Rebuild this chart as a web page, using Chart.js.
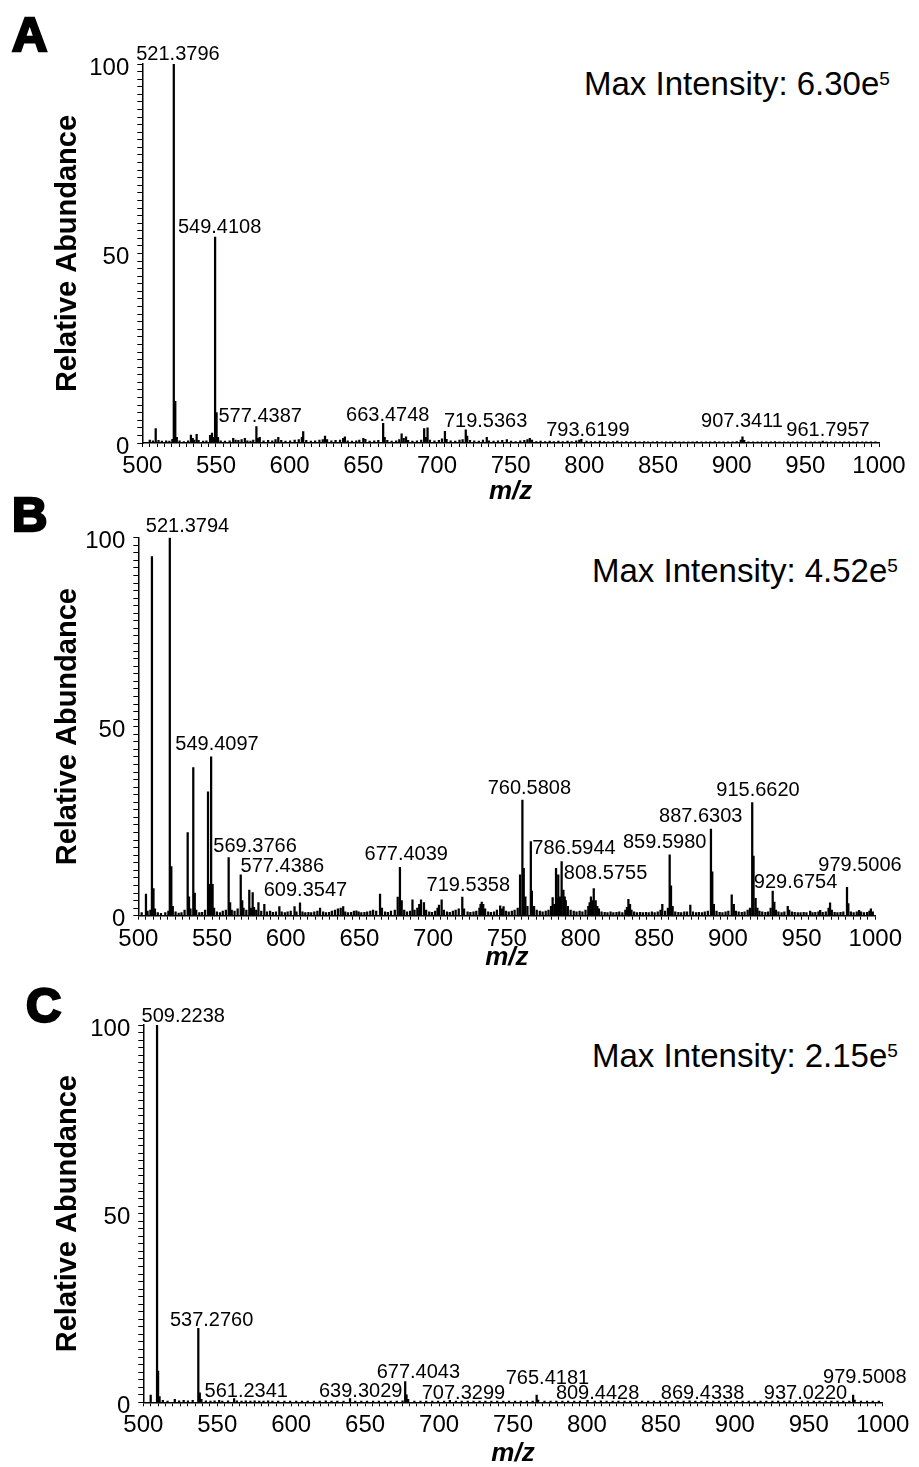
<!DOCTYPE html>
<html>
<head>
<meta charset="utf-8">
<script src="https://cdn.jsdelivr.net/npm/chart.js@4.4.1/dist/chart.umd.min.js"></script>
<style>
  body { margin: 0; background: #fff; width: 919px; height: 1467px; position: relative; overflow: hidden;
         font-family: "Liberation Sans", Arial, sans-serif; color: #000; }
  canvas { position: absolute; left: 0; }
  .letter { position: absolute; font-weight: bold; font-size: 49px; line-height: 49px; -webkit-text-stroke: 2.5px #000; }
  .maxint { position: absolute; font-size: 33px; line-height: 33px; white-space: nowrap; }
  .maxint sup { font-size: 19px; vertical-align: 10px; line-height: 0; }
</style>
</head>
<body>
<div class="letter" style="left:12px;top:10px">A</div>
<div class="letter" style="left:12px;top:490px">B</div>
<div class="letter" style="left:26px;top:981px">C</div>
<div class="maxint" style="left:584px;top:67px">Max Intensity: 6.30e<sup>5</sup></div>
<div class="maxint" style="left:592px;top:554px">Max Intensity: 4.52e<sup>5</sup></div>
<div class="maxint" style="left:592px;top:1039px">Max Intensity: 2.15e<sup>5</sup></div>

<canvas id="chartA" width="919" height="507" style="top:0px"></canvas>
<canvas id="chartB" width="919" height="483" style="top:490px"></canvas>
<canvas id="chartC" width="919" height="507" style="top:960px"></canvas>

<script>
// peaks: [m/z, relative abundance]
const peaksA = [
  [505.1,0.8],[507.2,0.6],[509.1,3.8],[511.0,0.7],[513.3,0.5],[516.2,0.6],[518.4,0.5],[520.4,1.0],
  [521.38,100],[522.38,11],[523.4,1.5],[525.3,0.6],[528.2,0.4],[531.1,0.6],[533.0,2.1],[534.2,1.2],
  [535.3,0.8],[536.9,2.3],[538.2,0.7],[541.3,0.5],[543.5,0.6],[546.0,2.0],[547.3,2.6],[548.4,1.5],
  [549.41,54.3],[550.41,8.0],[551.4,1.5],[553.2,0.6],[556.1,0.5],[559.3,0.6],[561.7,1.2],[563.3,0.8],
  [565.2,0.7],[567.4,0.9],[569.6,1.2],[571.3,0.6],[573.4,0.5],[575.3,0.8],[577.44,4.3],[578.4,1.2],
  [579.7,1.5],[582.3,0.6],[585.4,0.7],[588.2,0.6],[590.4,0.9],[592.3,1.5],[594.3,0.7],[597.2,0.5],
  [600.3,0.6],[603.4,0.8],[606.2,0.9],[608.3,1.5],[609.2,3.0],[611.3,0.7],[614.4,0.5],[617.3,0.6],
  [620.2,0.8],[622.5,0.9],[624.0,1.8],[625.4,0.9],[628.3,0.6],[631.2,0.7],[634.2,0.8],[636.3,1.2],
  [637.5,1.6],[639.4,0.6],[642.3,0.5],[645.2,0.6],[647.3,0.8],[650.0,1.2],[651.4,1.0],[654.3,0.5],
  [657.4,0.6],[660.2,0.7],[663.47,5.2],[664.5,1.5],[666.3,0.7],[669.2,0.5],[672.3,0.6],[674.4,0.9],
  [676.0,2.4],[677.4,1.2],[679.0,1.6],[680.4,0.7],[683.3,0.5],[686.4,0.6],[689.3,0.8],[691.3,3.8],
  [692.4,1.5],[693.6,4.0],[695.2,0.8],[698.3,0.6],[701.3,0.7],[703.4,1.1],[705.4,3.1],[706.5,1.0],
  [709.3,0.6],[712.4,0.5],[715.3,0.8],[717.4,0.9],[719.54,3.5],[720.5,1.8],[722.4,0.7],[725.3,0.6],
  [728.4,0.5],[731.2,0.8],[733.8,1.5],[735.3,0.6],[738.4,0.5],[741.4,0.6],[744.3,0.7],[747.4,0.9],
  [750.3,0.5],[753.4,0.4],[756.5,0.6],[759.3,0.7],[761.4,0.9],[763.0,1.2],[764.5,0.8],[767.4,0.4],
  [770.3,0.5],[773.4,0.4],[776.5,0.5],[779.3,0.4],[782.4,0.5],[785.3,0.4],[788.6,0.5],[791.4,0.4],
  [794.5,0.6],[796.6,0.8],[798.0,1.0],[801.5,0.5],[804.4,0.4],[807.3,0.4],[810.5,0.5],[813.4,0.4],
  [816.3,0.3],[819.5,0.4],[822.4,0.5],[825.4,0.3],[828.5,0.4],[831.6,0.3],[834.4,0.4],[837.5,0.3],
  [840.6,0.4],[843.3,0.3],[846.5,0.3],[849.4,0.4],[852.6,0.3],[855.5,0.3],[858.4,0.3],[861.6,0.4],
  [864.5,0.3],[867.4,0.3],[870.6,0.3],[873.5,0.3],[876.4,0.4],[879.5,0.3],[882.6,0.3],[885.4,0.3],
  [888.5,0.4],[891.6,0.3],[894.4,0.3],[897.5,0.3],[900.6,0.3],[903.4,0.4],[906.2,0.8],[907.34,1.6],
  [908.5,0.7],[911.4,0.3],[914.5,0.3],[917.6,0.3],[920.4,0.3],[923.5,0.3],[926.6,0.3],[929.4,0.4],
  [932.5,0.3],[935.6,0.3],[938.4,0.3],[941.5,0.3],[944.6,0.3],[947.4,0.3],[950.5,0.3],[953.6,0.3],
  [956.4,0.3],[959.5,0.3],[961.8,0.5],[964.4,0.3],[967.5,0.3],[970.6,0.3],[973.4,0.3],[976.5,0.3],
  [979.6,0.3],[982.4,0.3],[985.5,0.3],[988.6,0.3],[991.4,0.3],[994.5,0.3],[997.6,0.3]
];
const peaksB = [
  [502.3,0.8],[505.2,5.7],[506.3,1.2],[508.2,1.5],[509.25,95],[510.3,7.2],[511.3,1.8],[513.2,0.8],
  [515.4,0.6],[518.3,0.8],[520.4,1.2],[521.38,100],[522.4,13],[523.4,2.5],[525.3,1.0],[527.4,0.7],
  [529.3,0.8],[531.4,1.5],[533.5,22],[534.4,5],[535.4,1.8],[537.3,39.2],[538.3,6],[539.3,1.5],
  [541.4,0.8],[543.3,0.9],[545.3,1.5],[547.3,32.8],[548.3,8.3],[549.41,42],[550.4,8.3],[551.4,2.0],
  [553.3,1.0],[555.4,0.8],[557.3,1.2],[559.4,1.5],[561.3,15.4],[562.3,3.5],[563.4,1.5],[565.3,1.2],
  [567.4,1.8],[569.5,10.8],[570.5,4],[571.4,2.0],[573.3,1.5],[575.3,6.8],[576.4,2.0],[577.6,6.1],
  [578.5,2.2],[580.0,1.5],[581.5,3.5],[583.4,1.2],[585.5,3.0],[587.3,1.0],[589.4,1.2],[591.3,0.9],
  [593.4,1.0],[595.7,2.4],[597.3,1.0],[599.4,0.8],[601.3,1.0],[603.4,1.2],[606.0,2.4],[607.3,1.0],
  [609.7,3.4],[611.4,1.0],[613.3,0.8],[615.4,0.9],[617.3,0.8],[619.4,1.0],[621.5,1.2],[623.3,2.0],
  [625.4,1.0],[627.3,0.8],[629.4,0.9],[631.3,1.2],[633.4,1.5],[635.4,1.8],[637.3,2.0],[639.0,2.4],
  [640.4,1.0],[642.3,0.8],[644.4,0.9],[646.3,1.2],[648.0,1.3],[649.5,1.0],[651.3,0.8],[653.4,0.9],
  [655.3,1.0],[657.4,1.2],[659.3,1.5],[661.4,1.2],[664.0,5.7],[665.3,2.0],[667.4,1.0],[669.3,0.9],
  [671.4,1.2],[674.0,1.5],[676.0,4.9],[677.5,12.8],[678.7,4],[680.4,1.5],[682.3,1.0],[684.4,1.2],
  [686.0,4.2],[687.4,1.5],[689.3,2.0],[690.6,3.0],[691.8,4.2],[693.8,3.5],[695.3,1.5],[697.4,1.0],
  [699.3,0.9],[701.4,1.2],[703.0,2.0],[704.0,2.8],[705.8,4.2],[707.3,1.5],[709.4,1.0],[711.3,0.9],
  [713.4,1.2],[715.3,1.5],[717.4,1.8],[719.8,4.9],[721.0,1.8],[723.4,1.0],[725.3,0.9],[727.4,1.0],
  [729.3,1.2],[731.4,2.0],[732.2,3.0],[733.0,3.6],[734.0,3.0],[735.3,1.8],[737.4,1.0],[739.3,0.9],
  [741.4,1.0],[743.3,1.5],[745.5,2.6],[746.6,1.8],[747.8,2.4],[749.4,1.2],[751.3,1.0],[753.4,1.2],
  [755.3,1.5],[757.4,2.0],[759.0,10.8],[760.58,30.6],[761.5,12.5],[762.6,5.0],[764.0,2.5],[766.3,19.6],
  [767.0,6.5],[768.5,2.5],[770.3,1.5],[772.4,1.2],[774.3,1.0],[776.4,1.2],[778.3,1.5],[780.0,2.5],
  [781.1,4.8],[782.3,3.0],[783.4,12.5],[784.3,4.5],[784.9,10.8],[786.0,5.0],[787.2,14.3],[788.4,6.8],
  [789.3,5.0],[790.0,4.0],[791.4,2.5],[793.3,1.5],[795.4,1.2],[797.3,1.0],[799.4,1.2],[801.3,1.0],
  [803.4,1.5],[805.3,2.5],[806.2,3.5],[807.1,5.0],[808.0,4.0],[809.0,7.2],[810.3,4.0],[811.4,2.5],
  [812.5,1.8],[814.3,1.0],[816.4,0.9],[818.3,0.8],[820.4,1.0],[822.3,0.8],[824.4,0.9],[826.3,1.0],
  [828.4,0.8],[830.4,1.5],[831.5,2.2],[832.5,4.3],[833.6,3.0],[834.6,1.5],[836.4,1.0],[838.3,0.8],
  [840.4,0.9],[842.3,0.8],[844.4,0.9],[846.3,0.8],[848.4,1.0],[850.3,0.8],[852.4,1.0],[854.3,1.5],
  [855.5,3.0],[857.4,1.2],[859.3,2.0],[860.5,16.1],[861.4,7.9],[862.5,2.5],[864.3,1.0],[866.4,0.9],
  [868.3,0.8],[870.4,1.0],[872.3,1.0],[874.5,2.8],[876.3,1.0],[878.4,0.8],[880.3,0.9],[882.4,0.8],
  [884.3,1.0],[886.4,1.2],[888.5,22.9],[889.4,11.6],[890.5,3.0],[892.3,1.2],[894.4,0.9],[896.3,0.8],
  [898.4,1.0],[900.3,1.2],[902.6,5.5],[904.0,3.0],[905.4,1.2],[907.3,1.0],[909.4,0.9],[911.3,1.0],
  [913.4,1.5],[915.0,2.0],[916.5,29.9],[917.4,15.8],[918.8,4.6],[920.0,2.0],[921.4,1.2],[923.3,1.0],
  [925.4,0.9],[927.3,1.0],[929.0,2.0],[930.4,6.5],[931.5,3.6],[932.6,1.5],[934.3,1.0],[936.4,0.8],
  [938.3,1.0],[940.6,2.5],[941.6,1.5],[943.4,1.0],[945.3,0.9],[947.4,0.8],[949.3,0.8],[951.4,0.9],
  [953.3,0.8],[955.8,1.2],[957.4,0.8],[959.3,0.9],[961.4,1.0],[962.6,1.4],[964.3,0.9],[966.4,1.0],
  [968.3,2.0],[969.3,3.4],[970.5,1.5],[972.4,0.9],[974.3,0.8],[976.4,0.9],[978.3,1.0],[980.8,7.5],
  [981.7,3.2],[983.4,1.0],[985.3,0.8],[987.4,1.0],[989.0,1.4],[990.4,1.0],[992.3,0.8],[994.4,0.9],
  [996.0,1.2],[997.0,1.8],[998.3,1.0]
];
const peaksC = [
  [505.0,1.9],[509.3,100],[510.0,8.3],[511.0,1.5],[513.2,0.5],[516.4,0.3],[521.3,0.8],[524.2,0.4],
  [527.3,0.5],[530.2,0.4],[533.4,0.5],[537.2,19.6],[538.2,2.5],[539.3,0.8],[542.3,0.4],[545.4,0.3],
  [548.2,0.4],[551.3,0.5],[553.4,0.3],[557.3,0.4],[561.4,1.0],[563.3,0.4],[566.4,0.3],[569.3,0.4],
  [572.4,0.3],[575.3,0.4],[578.4,0.3],[581.3,0.3],[584.4,0.4],[587.3,0.3],[591.2,0.3],[595.4,0.3],
  [599.3,0.3],[603.4,0.3],[607.3,0.3],[611.2,0.3],[615.4,0.3],[619.3,0.3],[623.4,0.4],[627.3,0.3],
  [631.2,0.3],[635.4,0.3],[639.8,1.0],[643.3,0.3],[647.4,0.3],[651.3,0.3],[655.4,0.3],[659.3,0.3],
  [663.4,0.3],[667.3,0.3],[671.4,0.3],[675.3,0.4],[677.1,5.5],[678.0,2.0],[679.1,0.8],[683.3,0.3],
  [687.4,0.3],[691.3,0.3],[695.4,0.3],[699.3,0.3],[703.4,0.3],[707.3,0.5],[711.4,0.3],[715.3,0.3],
  [719.4,0.3],[723.3,0.3],[727.4,0.3],[731.3,0.3],[735.4,0.3],[739.3,0.3],[743.4,0.3],[747.3,0.3],
  [751.4,0.3],[755.3,0.3],[759.4,0.3],[763.3,0.3],[766.0,1.9],[767.0,0.6],[771.3,0.3],[775.4,0.3],
  [779.3,0.3],[783.4,0.3],[787.3,0.3],[791.4,0.3],[795.3,0.3],[800.4,0.5],[805.3,0.3],[809.4,0.4],
  [813.3,0.3],[817.4,0.3],[821.3,0.3],[825.4,0.3],[829.3,0.3],[833.4,0.3],[837.3,0.3],[841.4,0.3],
  [845.3,0.3],[849.4,0.3],[853.3,0.3],[857.4,0.3],[861.3,0.3],[865.4,0.3],[869.4,0.4],[873.3,0.3],
  [877.4,0.3],[881.3,0.3],[885.4,0.3],[889.3,0.3],[893.4,0.3],[897.3,0.3],[901.4,0.3],[905.3,0.3],
  [909.4,0.3],[913.3,0.3],[917.4,0.3],[921.3,0.3],[925.4,0.3],[929.3,0.3],[933.4,0.3],[937.0,0.4],
  [941.3,0.3],[945.4,0.3],[949.3,0.3],[953.4,0.3],[957.3,0.3],[961.4,0.3],[965.3,0.3],[969.4,0.3],
  [973.3,0.3],[977.4,0.3],[980.0,1.9],[981.0,0.6],[985.3,0.3],[989.4,0.3],[993.3,0.3],[997.4,0.3]
];

// peak annotations: text, and where the text sits (m/z of its centre, abundance of its baseline)
const labelTextA = ['521.3796','549.4108','577.4387','663.4748','719.5363','793.6199','907.3411','961.7957'];
const labelMzA   = [524.2, 552.5, 580.0, 666.6, 733.0, 802.4, 907.0, 965.4];
const labelAbA   = [101, 55.3, 5.6, 5.9, 4.3, 1.8, 4.3, 1.8];

const labelTextB = ['521.3794','549.4097','569.3766','577.4386','609.3547','677.4039','719.5358','760.5808',
                    '786.5944','808.5755','859.5980','887.6303','915.6620','929.6754','979.5006'];
const labelMzB   = [533.4, 553.4, 579.2, 597.7, 613.4, 681.8, 723.9, 765.3, 795.6, 817.0, 857.1, 881.6, 920.4, 945.9, 989.6];
const labelAbB   = [101.6, 43.8, 16.9, 11.6, 5.3, 14.7, 6.5, 32.2, 16.2, 9.6, 17.8, 24.7, 31.7, 7.2, 11.8];

const labelTextC = ['509.2238','537.2760','561.2341','639.3029','677.4043','707.3299','765.4181','809.4428',
                    '869.4338','937.0220','979.5008'];
const labelMzC   = [527.0, 546.2, 569.6, 647.0, 686.0, 716.5, 773.3, 807.2, 878.2, 947.8, 987.9];
const labelAbC   = [100.7, 20.2, 1.5, 1.5, 6.4, 1.0, 4.8, 0.8, 0.8, 0.8, 5.0];

const xTicksMajor = 50;
const yTicksMajor = 50;

Chart.defaults.font.family = '"Liberation Sans", Arial, sans-serif';
Chart.defaults.color = '#000';

function labelPlugin(texts, mzs, abs) {
  return {
    id: 'peakLabels',
    afterDatasetsDraw(chart) {
      const { ctx, scales: { x, y } } = chart;
      ctx.save();
      ctx.font = '20px "Liberation Sans", Arial, sans-serif';
      ctx.fillStyle = '#000';
      ctx.textAlign = 'center';
      ctx.textBaseline = 'alphabetic';
      texts.forEach((t, i) => ctx.fillText(t, x.getPixelForValue(mzs[i]), y.getPixelForValue(abs[i])));
      ctx.restore();
    }
  };
}

function buildSpectrum(id, peaks, texts, mzs, abs, box) {
  const points = peaks.map(p => ({ x: p[0], y: p[1] }));
  return new Chart(document.getElementById(id), {
    type: 'bar',
    data: {
      datasets: [{
        data: points,
        backgroundColor: '#000',
        borderWidth: 0,
        barThickness: 1.6,
        grouped: false
      }]
    },
    options: {
      responsive: false,
      animation: false,
      layout: { padding: { top: box.top, right: box.right, left: 0, bottom: 0 } },
      plugins: { legend: { display: false }, tooltip: { enabled: false } },
      scales: {
        x: {
          type: 'linear',
          min: 500,
          max: 1000,
          offset: false,
          afterFit: s => { s.height = box.xAxisH; },
          grid: { drawOnChartArea: false, offset: false, tickLength: 4, color: '#000', lineWidth: 1 },
          border: { color: '#000', width: 1.5 },
          ticks: {
            stepSize: 5,
            autoSkip: false,
            maxRotation: 0,
            padding: 5,
            font: { size: 24 },
            callback: v => (v % xTicksMajor === 0 ? String(v) : '')
          },
          title: {
            display: true,
            text: 'm/z',
            font: { size: 26, weight: 'bold', style: 'italic', lineHeight: 1 },
            padding: { top: 0, bottom: box.titlePad }
          }
        },
        y: {
          min: 0,
          max: 100,
          afterFit: s => { s.width = box.left; },
          grid: { drawOnChartArea: false, tickLength: 5, color: '#000', lineWidth: 1 },
          border: { color: '#000', width: 1.5 },
          ticks: {
            stepSize: 2,
            autoSkip: false,
            padding: 8,
            labelOffset: 4,
            font: { size: 24 },
            callback: v => (v % yTicksMajor === 0 ? String(v) : '')
          },
          title: {
            display: true,
            text: 'Relative Abundance',
            font: { size: 29, weight: 'bold', lineHeight: 1 },
            padding: { top: 53, bottom: 0 }
          }
        }
      }
    },
    plugins: [labelPlugin(texts, mzs, abs)]
  });
}

buildSpectrum('chartA', peaksA, labelTextA, labelMzA, labelAbA,
  { top: 64, right: 40, left: 142.3, xAxisH: 64, titlePad: 2 });
buildSpectrum('chartB', peaksB, labelTextB, labelMzB, labelAbB,
  { top: 47.7, right: 43.7, left: 138.3, xAxisH: 57.3, titlePad: 2 });
buildSpectrum('chartC', peaksC, labelTextC, labelMzC, labelAbC,
  { top: 65, right: 36.3, left: 143.3, xAxisH: 64.7, titlePad: 0 });
</script>
</body>
</html>
